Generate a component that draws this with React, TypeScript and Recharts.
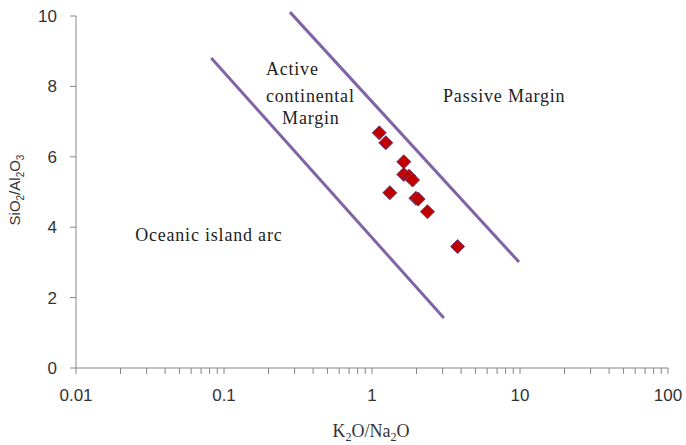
import { ScatterChart, Scatter, XAxis, YAxis, ReferenceLine, ReferenceDot } from 'recharts';

const ratioK2ONa2O = [1.12, 1.24, 1.64, 1.64, 1.78, 1.88, 1.32, 1.98, 2.05, 2.37, 3.79];
const ratioSiO2Al2O3 = [6.68, 6.4, 5.86, 5.5, 5.45, 5.34, 4.98, 4.82, 4.8, 4.44, 3.45];

const samples = ratioK2ONa2O.map((x, i) => ({ x, y: ratioSiO2Al2O3[i] }));

const xMajorTicks = [0.01, 0.1, 1, 10, 100];
const xAllTicks = [
  0.01, 0.02, 0.03, 0.04, 0.05, 0.06, 0.07, 0.08, 0.09,
  0.1, 0.2, 0.3, 0.4, 0.5, 0.6, 0.7, 0.8, 0.9,
  1, 2, 3, 4, 5, 6, 7, 8, 9,
  10, 20, 30, 40, 50, 60, 70, 80, 90,
  100,
];
const yTicks = [0, 2, 4, 6, 8, 10];

// boundary lines between tectonic fields
const oceanicBoundary = [{ x: 0.082, y: 8.81 }, { x: 3.06, y: 1.42 }];
const passiveBoundary = [{ x: 0.279, y: 10.11 }, { x: 9.85, y: 3.01 }];

const fieldLabels = [
  { x: 0.192, y: 8.32, text: 'Active' },
  { x: 0.192, y: 7.56, text: 'continental' },
  { x: 0.247, y: 6.93, text: 'Margin' },
  { x: 3.02, y: 7.56, text: 'Passive Margin' },
  { x: 0.0251, y: 3.61, text: 'Oceanic island arc' },
];

const PURPLE = '#8065a6';
const serif = '"Liberation Serif", "Times New Roman", serif';
const sans = '"Liberation Sans", Arial, sans-serif';

const Diamond = (props: any) => {
  const { cx, cy } = props;
  const r = 7;
  return (
    <polygon
      points={`${cx},${cy - r} ${cx + r},${cy} ${cx},${cy + r} ${cx - r},${cy}`}
      fill="#c00000"
      stroke="#6b3a6e"
      strokeWidth={1}
    />
  );
};

export default function App() {
  return (
    <div style={{ position: 'absolute', left: 0, top: 0, background: '#fff' }}>
      <ScatterChart width={686} height={445} margin={{ top: 16, right: 18, bottom: 17, left: 16 }}>
        <XAxis
          type="number"
          dataKey="x"
          scale="log"
          domain={[0.01, 100]}
          ticks={xAllTicks}
          allowDataOverflow
          interval={0}
          height={60}
          tickSize={6}
          tickMargin={15}
          axisLine={{ stroke: '#868686' }}
          tickLine={{ stroke: '#868686' }}
          tick={{ fill: '#333', fontSize: 17, fontFamily: sans }}
          tickFormatter={(v: number) => (xMajorTicks.includes(v) ? String(v) : '')}
          label={{
            content: () => (
              <text x={371} y={437} textAnchor="middle" fill="#333" fontFamily={serif} fontSize={18}>
                <tspan>K</tspan>
                <tspan dy={4} fontSize={12}>2</tspan>
                <tspan dy={-4}>O/Na</tspan>
                <tspan dy={4} fontSize={12}>2</tspan>
                <tspan dy={-4}>O</tspan>
              </text>
            ),
          }}
        />
        <YAxis
          type="number"
          dataKey="y"
          domain={[0, 10]}
          ticks={yTicks}
          width={60}
          tickSize={6}
          tickMargin={13}
          axisLine={{ stroke: '#868686' }}
          tickLine={{ stroke: '#868686' }}
          tick={{ fill: '#333', fontSize: 17, fontFamily: sans }}
          label={{
            content: () => (
              <text
                x={20}
                y={190}
                transform="rotate(-90 20 190)"
                textAnchor="middle"
                fill="#333"
                fontFamily={sans}
                fontSize={15}
              >
                <tspan>SiO</tspan>
                <tspan dy={4} fontSize={10}>2</tspan>
                <tspan dy={-4}>/Al</tspan>
                <tspan dy={4} fontSize={10}>2</tspan>
                <tspan dy={-4}>O</tspan>
                <tspan dy={4} fontSize={10}>3</tspan>
              </text>
            ),
          }}
        />
        <ReferenceLine segment={oceanicBoundary} stroke={PURPLE} strokeWidth={3} ifOverflow="visible" />
        <ReferenceLine segment={passiveBoundary} stroke={PURPLE} strokeWidth={3} ifOverflow="visible" />
        {fieldLabels.map((l) => (
          <ReferenceDot
            key={l.text}
            x={l.x}
            y={l.y}
            ifOverflow="visible"
            shape={(p: any) => (
              <text x={p.cx} y={p.cy} fill="#222" fontFamily={serif} fontSize={18} letterSpacing={0.8}>
                {l.text}
              </text>
            )}
          />
        ))}
        <Scatter data={samples} shape={Diamond} isAnimationActive={false} />
      </ScatterChart>
    </div>
  );
}
